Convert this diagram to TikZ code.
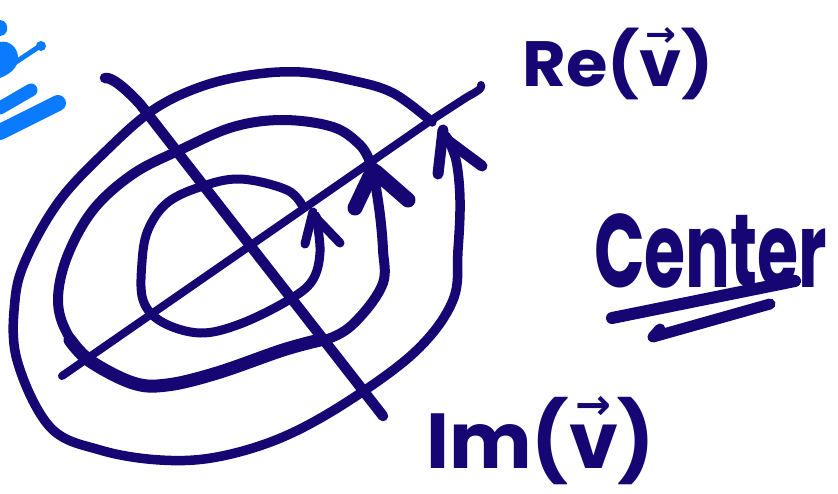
\documentclass[tikz,border=0pt]{standalone}
\usepackage{fontspec}
\setmainfont{Poppins}
\newfontfamily\arrowfont{DejaVu Sans}
\definecolor{ink}{RGB}{22,6,116}
\definecolor{iconblue}{RGB}{10,122,255}
\tikzset{
  pen/.style={draw=ink, line cap=round, line join=round},
  label/.style={text=ink, inner sep=0pt, font=\bfseries},
}
\newcommand{\vecv}{{\ooalign{v\cr\hidewidth\raisebox{0.62em}{\arrowfont\bfseries\scalebox{0.55}{→}}\hidewidth\cr}}}
\begin{document}
\begin{tikzpicture}[x=1pt,y=-1pt]
\useasboundingbox (0,0) rectangle (838,493);
\fill[white] (0,0) rectangle (838,493);

% blue icon fragment (top-left)
\begin{scope}[iconblue, line cap=round]
  \fill (0,42) .. controls (10,40) and (18,48) .. (18,58) .. controls (18,68) and (10,74) .. (0,78) -- cycle;
  \fill (0,20) .. controls (6,20) and (8,26) .. (7,31) .. controls (5,35) and (2,36) .. (0,36) -- cycle;
  \draw[line width=5pt] (13,64) -- (40,46);
  \fill (41,46) circle (5);
  \draw[line width=13pt] (0,108) -- (31,90);
  \draw[line width=16pt] (0,132) -- (58,103);
\end{scope}

% axes
\draw[pen, line width=8pt] (62,376) -- (430,121) -- (467,97) .. controls (480,90) and (482,88) .. (481,85);
\draw[pen, line width=10.5pt] (105,78) .. controls (112,77) and (125,88) .. (140,104) -- (383,416);

% inner loop
\draw[pen, line width=9pt] plot[smooth, tension=0.6] coordinates {
 (303,207) (287,190) (240,179) (200,187) (167,203) (148,230) (142,262)
 (143,300) (162,322) (200,333) (240,324) (287,301) (312,281) (320,252) (316,216)};
\draw[pen, line width=9pt] (313,212) -- (305,244);
\draw[pen, line width=9pt] (316,218) -- (340,243);

% middle loop
\draw[pen, line width=10pt] plot[smooth, tension=0.6] coordinates {
 (370,162) (360,145) (333,127) (283,120) (233,127) (180,150) (133,174)
 (93,210) (67,257) (58,300) (67,333) (90,360) (133,383) (167,385)
 (217,373) (283,350) (333,337) (360,317) (383,283) (383,250) (380,215) (374,175)};
\draw[pen, line width=13pt] plot[smooth, tension=0.6] coordinates {
 (70,340) (90,361) (133,383) (167,385) (217,373) (283,350) (320,340)};
\draw[pen, line width=15pt] (373,170) -- (355,208);
\draw[pen, line width=15pt] (376,172) -- (408,200);

% outer loop
\draw[pen, line width=9.5pt] plot[smooth, tension=0.6] coordinates {
 (432,122) (393,93) (350,80) (300,72) (250,75) (200,87) (153,110)
 (107,150) (60,200) (27,257) (15,300) (17,360) (50,427) (100,450)
 (160,460) (217,457) (283,437) (350,400) (417,350) (453,300) (458,250)
 (460,200) (456,160) (446,136)};
\draw[pen, line width=11pt] (443,130) -- (438,174);
\draw[pen, line width=11pt] (447,140) -- (482,166);

% labels
\node[label, anchor=base west] (re) at (522,86)
  {\fontsize{64}{64}\selectfont\scalebox{1.05}[1]{Re(\vecv)}};
\node[label, anchor=base west] (im) at (426,468)
  {\fontsize{78}{78}\selectfont Im(\vecv)};
\node[label, anchor=base west] (center) at (594,287)
  {\fontsize{104}{104}\selectfont\scalebox{0.64}[1]{Center}};

% underline strokes
\draw[pen, line width=12pt] (612,318) -- (795,281);
\draw[pen, line width=11pt] (660,329) -- (653,337) -- (770,304);
\end{tikzpicture}
\end{document}
